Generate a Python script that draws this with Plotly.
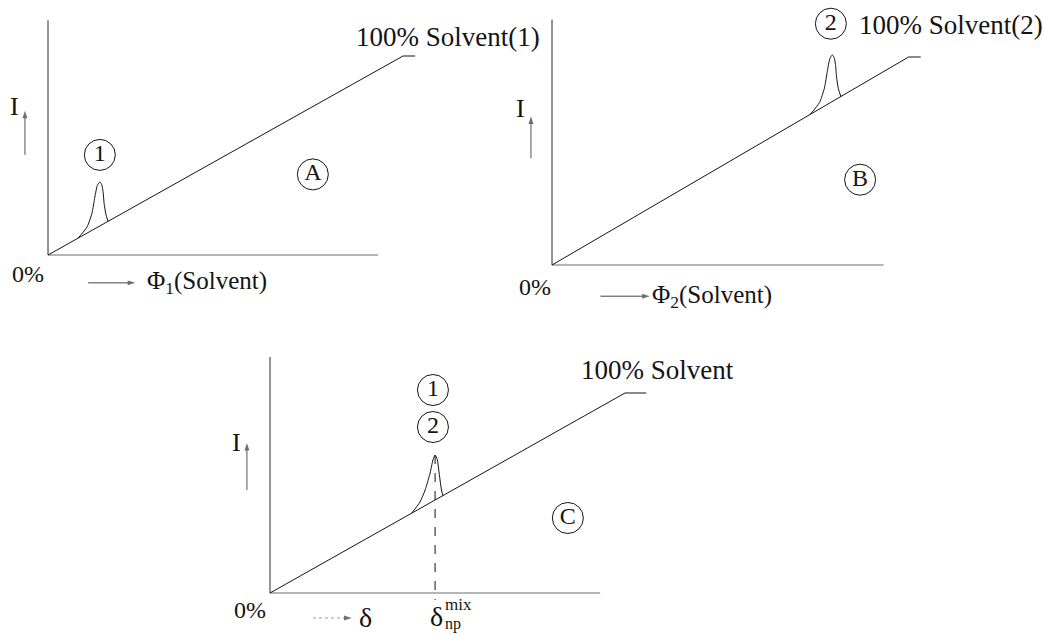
import plotly.graph_objects as go

W, H = 1043, 635
FONT = "'Liberation Serif', 'Times New Roman', 'DejaVu Serif', serif"
INK = "#141414"

# ---------------- data ----------------
# solvent-scattering baseline: 0% -> 100% solvent, then a short flat tail
diag_y = [0, 100, 100]
diag_x_A = [0, 100, 103.4]
diag_x_B = [0, 100, 103.4]
diag_x_C = [0, 100, 106.0]

# axis extents
y_axis_top = 118
x_axis_end = 93

# nanoparticle peaks (intensity I vs composition)
peakA_x = [8.45, 11.0, 12.4, 13.2, 13.9, 14.6, 15.1, 15.5, 15.8, 16.3, 16.9]
peakA_y = [8.45, 14.1, 21.1, 29.1, 35.0, 36.7, 35.5, 32.0, 26.0, 20.5, 16.9]
peakB_x = [72.4, 75.0, 76.4, 77.2, 77.9, 78.6, 79.1, 79.5, 79.8, 80.3, 81.0]
peakB_y = [72.4, 78.1, 85.1, 93.1, 99.1, 101.0, 99.8, 96.3, 90.3, 84.8, 81.0]
peakC_x = [39.9, 42.25, 43.7, 45.1, 45.9, 46.5, 47.1, 47.5, 47.9, 48.3, 48.7]
peakC_y = [39.9, 45.5, 51.5, 60.0, 66.5, 69.0, 66.8, 62.0, 56.5, 51.5, 48.7]

# delta_np^mix marker (panel C)
delta_mix_x = 46.5
delta_mix_y = [69.0, -3.5]

# circled labels
circA_txt = ["1", "A"]
circA_x = [14.6, 74.6]
circA_y = [50.3, 40.5]
circB_txt = ["2", "B"]
circB_x = [78.2, 86.4]
circB_y = [116.0, 41.0]
circC_txt = ["1", "2", "C"]
circC_x = [45.9, 45.9, 83.9]
circC_y = [101.5, 83.0, 37.5]

# ---------------- geometry ----------------
panels = {
    "A": dict(ox=48, oy=255, ex=403, ey=56),
    "B": dict(ox=552, oy=265, ex=908.6, ey=57.0),
    "C": dict(ox=270, oy=593, ex=625, ey=393),
}
XR = [-13, 115]
YR = [-20, 124]


def domains(p):
    sx = (p["ex"] - p["ox"]) / 100.0
    sy = (p["oy"] - p["ey"]) / 100.0
    x0 = p["ox"] + XR[0] * sx
    x1 = p["ox"] + XR[1] * sx
    ytop = p["oy"] - YR[1] * sy
    ybot = p["oy"] - YR[0] * sy
    clamp = lambda v: min(1.0, max(0.0, v))
    return [clamp(x0 / W), clamp(x1 / W)], [clamp(1 - ybot / H), clamp(1 - ytop / H)]


fig = go.Figure()
axes = {"A": ("x", "y"), "B": ("x2", "y2"), "C": ("x3", "y3")}

diag = {"A": diag_x_A, "B": diag_x_B, "C": diag_x_C}
peaks = {"A": (peakA_x, peakA_y), "B": (peakB_x, peakB_y), "C": (peakC_x, peakC_y)}
circ = {"A": (circA_txt, circA_x, circA_y), "B": (circB_txt, circB_x, circB_y),
        "C": (circC_txt, circC_x, circC_y)}

for k, (xa, ya) in axes.items():
    common = dict(xaxis=xa, yaxis=ya, hoverinfo="skip", cliponaxis=False)
    # y axis
    fig.add_trace(go.Scatter(x=[0, 0], y=[0, y_axis_top], mode="lines",
                             line=dict(color="#2a2a2a", width=1), **common))
    # x axis
    fig.add_trace(go.Scatter(x=[0, x_axis_end], y=[0, 0], mode="lines",
                             line=dict(color="#6a6a6a", width=1), **common))
    # baseline
    fig.add_trace(go.Scatter(x=diag[k], y=diag_y, mode="lines",
                             line=dict(color=INK, width=1), **common))
    # peak
    px, py = peaks[k]
    fig.add_trace(go.Scatter(x=px, y=py, mode="lines",
                             line=dict(color=INK, width=1, shape="spline", smoothing=0.6),
                             **common))
    # circled labels
    t, cx, cy = circ[k]
    fig.add_trace(go.Scatter(x=cx, y=cy, mode="markers+text", text=t,
                             textposition="middle center",
                             textfont=dict(family=FONT, size=24, color=INK),
                             marker=dict(symbol="circle-open", size=31, color=INK,
                                         line=dict(width=1, color=INK)),
                             **common))

# dashed delta_np^mix line in panel C
fig.add_trace(go.Scatter(x=[delta_mix_x, delta_mix_x], y=delta_mix_y, mode="lines",
                         line=dict(color=INK, width=1, dash="dash"),
                         xaxis="x3", yaxis="y3", hoverinfo="skip", cliponaxis=False))


def arrow(xa, ya, xs, ys, color, dash="solid"):
    fig.add_trace(go.Scatter(x=xs, y=ys, mode="lines+markers",
                             line=dict(color=color, width=1, dash=dash),
                             marker=dict(symbol="arrow", size=[0, 8], angleref="previous",
                                         color="#333", line=dict(width=0)),
                             xaxis=xa, yaxis=ya, hoverinfo="skip", cliponaxis=False))


ann = []


def txt(xa, ya, x, y, s, size=25, xanchor="left"):
    ann.append(dict(xref=xa, yref=ya, x=x, y=y, text=s, showarrow=False,
                    xanchor=xanchor, yanchor="middle",
                    font=dict(family=FONT, size=size, color=INK)))


# Panel A
txt("x", "y", 86.3, 109.5, "100% Solvent(1)", 27)
txt("x", "y", -5.6, -9.5, "0%", 24, "center")
txt("x", "y", -9.3, 74.5, "I", 26, "center")
arrow("x", "y", [-6.5, -6.5], [50.3, 72.5], "#555")
arrow("x", "y", [11.3, 24.6], [-14.0, -14.0], "#444")
txt("x", "y", 27.4, -14.0, "Φ<sub>1</sub>(Solvent)", 25)

# Panel B
txt("x2", "y2", 85.6, 115.6, "100% Solvent(2)", 27)
txt("x2", "y2", -4.7, -10.5, "0%", 24, "center")
txt("x2", "y2", -8.75, 75.0, "I", 26, "center")
arrow("x2", "y2", [-5.9, -5.9], [51.3, 71.5], "#555")
arrow("x2", "y2", [13.6, 27.4], [-15.0, -15.0], "#444")
txt("x2", "y2", 27.6, -15.0, "Φ<sub>2</sub>(Solvent)", 25)

# Panel C
txt("x3", "y3", 87.0, 111.5, "100% Solvent", 27)
txt("x3", "y3", -5.6, -8.5, "0%", 24, "center")
txt("x3", "y3", -9.3, 75.5, "I", 26, "center")
arrow("x3", "y3", [-6.5, -6.5], [51.5, 75.0], "#555")
arrow("x3", "y3", [12.1, 23.0], [-12.5, -12.5], "#999", "dot")
txt("x3", "y3", 24.6, -12.0, "δ", 28)
txt("x3", "y3", 46.8, -11.5, "δ", 28, "center")
txt("x3", "y3", 48.7, -5.5, "mix", 17)
txt("x3", "y3", 48.7, -15.5, "np", 16)

fig.update_layout(annotations=ann, showlegend=False)

for k, (xa, ya) in axes.items():
    xd, yd = domains(panels[k])
    xname = "xaxis" if xa == "x" else "xaxis" + xa[1:]
    yname = "yaxis" if ya == "y" else "yaxis" + ya[1:]
    fig.update_layout(**{
        xname: dict(domain=xd, range=XR, visible=False, anchor=ya, fixedrange=True),
        yname: dict(domain=yd, range=YR, visible=False, anchor=xa, fixedrange=True),
    })

fig.update_layout(width=W, height=H, margin=dict(l=0, r=0, t=0, b=0),
                  paper_bgcolor="white", plot_bgcolor="rgba(0,0,0,0)")

fig.write_html("out.html")
